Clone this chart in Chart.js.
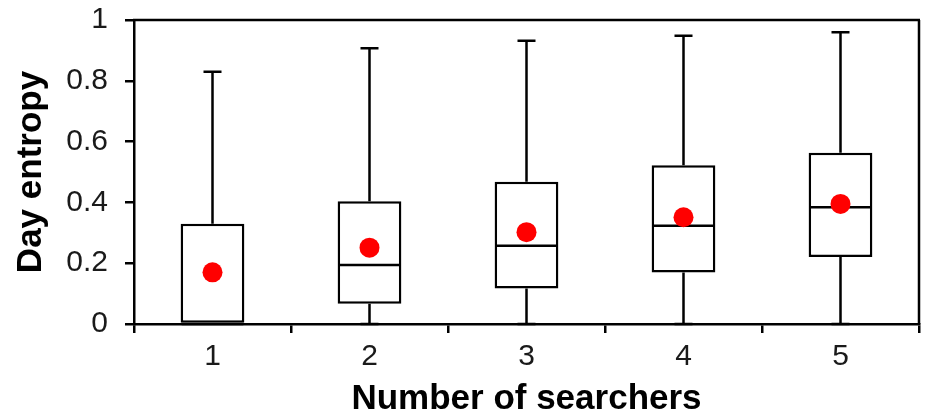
<!DOCTYPE html>
<html>
<head>
<meta charset="utf-8">
<script src="https://cdn.jsdelivr.net/npm/chart.js@4/dist/chart.umd.min.js"></script>
<style>
  html, body { margin: 0; padding: 0; background: #fff; }
  #wrap { width: 929px; height: 419px; position: relative; }
</style>
</head>
<body>
<div id="wrap"><canvas id="c" width="929" height="419"></canvas></div>
<script>
// ---- data ----
const categories = ['1', '2', '3', '4', '5'];
const whiskerMin = [0, 0, 0, 0, 0];
const q1Values = [0, 0.067, 0.117, 0.169, 0.22];
const medianValues = [0, 0.194, 0.257, 0.323, 0.384];
const q3Values = [0.33, 0.404, 0.468, 0.522, 0.563];
const whiskerMax = [0.83, 0.907, 0.932, 0.948, 0.96];
const meanValues = [0.17, 0.251, 0.302, 0.351, 0.395];
const yTickValues = [0, 0.2, 0.4, 0.6, 0.8, 1];
const yTickLabels = ['0', '0.2', '0.4', '0.6', '0.8', '1'];
const xTitle = 'Number of searchers';
const yTitle = 'Day entropy';

const FONT = "'Liberation Sans', Arial, Helvetica, sans-serif";
const LW = 2.5;

// whiskers, caps and medians drawn through the chart's scales
const boxExtras = {
  id: 'boxExtras',
  afterDatasetDraw(chart, args) {
    if (args.index !== 0) return;
    const ctx = chart.ctx;
    const x = chart.scales.x, y = chart.scales.y;
    const meta = chart.getDatasetMeta(0);
    ctx.save();
    ctx.strokeStyle = '#000';
    ctx.lineWidth = LW;
    ctx.lineCap = 'butt';
    categories.forEach((c, i) => {
      const cx = x.getPixelForValue(i);
      const bar = meta.data[i];
      const half = bar.width / 2;
      const capHalf = 9;
      const yMax = y.getPixelForValue(whiskerMax[i]);
      const yQ3 = y.getPixelForValue(q3Values[i]);
      const yQ1 = y.getPixelForValue(q1Values[i]);
      const yMin = y.getPixelForValue(whiskerMin[i]);
      const yMed = y.getPixelForValue(medianValues[i]);
      ctx.beginPath();
      ctx.moveTo(cx, yQ3); ctx.lineTo(cx, yMax);
      ctx.moveTo(cx - capHalf, yMax); ctx.lineTo(cx + capHalf, yMax);
      ctx.moveTo(cx, yQ1); ctx.lineTo(cx, yMin);
      ctx.moveTo(cx - capHalf, yMin); ctx.lineTo(cx + capHalf, yMin);
      ctx.moveTo(cx - half + 1, yMed); ctx.lineTo(cx + half - 1, yMed);
      ctx.stroke();
    });
    ctx.restore();
  },
  afterDraw(chart) {
    const ctx = chart.ctx;
    const a = chart.chartArea;
    ctx.save();
    ctx.strokeStyle = '#000';
    ctx.lineWidth = LW;
    ctx.beginPath();
    ctx.moveTo(a.left - 1, a.top); ctx.lineTo(a.right + 1, a.top);
    ctx.moveTo(a.right, a.top); ctx.lineTo(a.right, a.bottom);
    ctx.stroke();
    ctx.restore();
  }
};

new Chart(document.getElementById('c'), {
  type: 'bar',
  data: {
    labels: categories,
    datasets: [
      {
        type: 'bar',
        label: 'IQR',
        data: categories.map((c, i) => [q1Values[i], q3Values[i]]),
        backgroundColor: '#ffffff',
        borderColor: '#000000',
        borderWidth: LW,
        borderSkipped: false,
        barPercentage: 0.406,
        categoryPercentage: 1,
        order: 2
      },
      {
        type: 'line',
        label: 'Mean',
        data: meanValues,
        showLine: false,
        pointRadius: 10,
        pointBackgroundColor: '#ff0000',
        pointBorderWidth: 0,
        pointBorderColor: '#ff0000',
        order: 1
      }
    ]
  },
  options: {
    responsive: false,
    animation: false,
    devicePixelRatio: 1,
    layout: { padding: { top: 0, right: 7, left: 0, bottom: 0 } },
    plugins: { legend: { display: false }, tooltip: { enabled: false } },
    scales: {
      x: {
        type: 'category',
        offset: true,
        afterFit(scale) { scale.height = 95; },
        grid: {
          offset: true,
          drawOnChartArea: false,
          drawTicks: true,
          tickLength: 9,
          color: '#000',
          lineWidth: LW
        },
        border: { display: true, color: '#000', width: LW },
        ticks: {
          color: '#1a1a1a',
          font: { family: FONT, size: 30 },
          padding: 6,
          maxRotation: 0
        },
        title: {
          display: true,
          text: xTitle,
          color: '#000',
          font: { family: FONT, size: 35, weight: 'bold', lineHeight: 1.1 },
          padding: { top: 0, bottom: 0 }
        }
      },
      y: {
        type: 'linear',
        min: 0,
        max: 1,
        afterFit(scale) {
          scale.width = 134;
          scale.paddingTop = 20;
          scale.paddingBottom = 0;
        },
        afterBuildTicks(scale) { scale.ticks = yTickValues.map(v => ({ value: v })); },
        grid: {
          drawOnChartArea: false,
          drawTicks: true,
          tickLength: 9,
          color: '#000',
          lineWidth: LW
        },
        border: { display: true, color: '#000', width: LW },
        ticks: {
          color: '#1a1a1a',
          font: { family: FONT, size: 30 },
          padding: 17,
          callback(value) {
            const k = yTickValues.indexOf(value);
            return k >= 0 ? yTickLabels[k] : '';
          }
        },
        title: {
          display: true,
          text: yTitle,
          color: '#000',
          font: { family: FONT, size: 35, weight: 'bold', lineHeight: 1.2 },
          padding: { top: 10, bottom: 0 }
        }
      }
    }
  },
  plugins: [boxExtras]
});
</script>
</body>
</html>
